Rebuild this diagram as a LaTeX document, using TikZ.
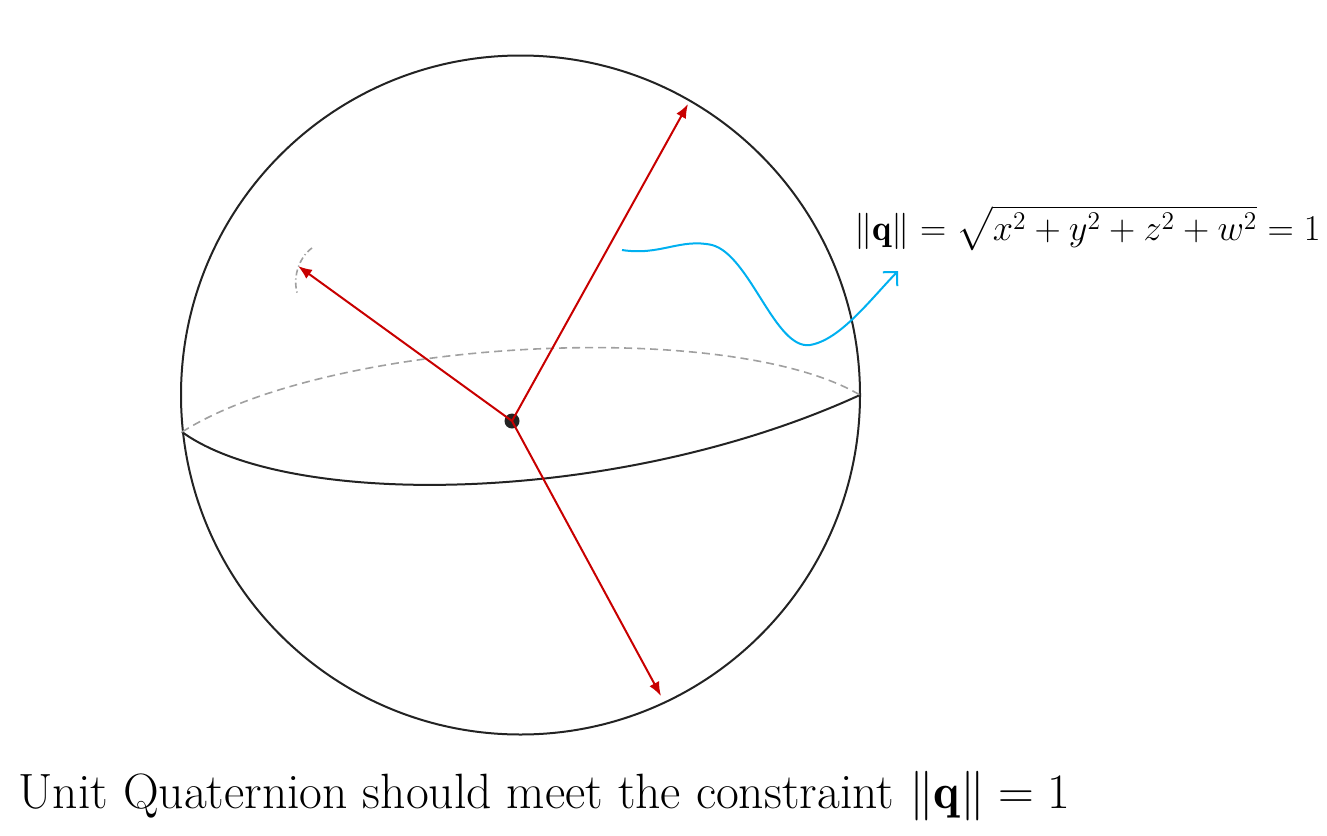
\RequirePackage{fix-cm}
\documentclass[tikz,border=0pt]{standalone}
\usepackage{amsmath}
\usepackage{amssymb}
\usepackage{fontspec}
\usepackage{tikz}
\usetikzlibrary{arrows.meta, positioning, calc}
\usepackage{xcolor}

\definecolor{qred}{RGB}{200,0,0}
\definecolor{qblue}{RGB}{0,176,240}
\definecolor{qgray}{RGB}{160,160,160}
\definecolor{qblack}{RGB}{35,35,35}

\begin{document}
\begin{tikzpicture}[x=0.5pt, y=-0.5pt]
        \useasboundingbox (0,0) rectangle (1327,835);

        % Khung cau don vi
        \draw[qblack, line width=1pt] (520.5,395) circle[radius=339.5];

        % Duong xich dao: phan truoc va phan sau
        \draw[qblack, line width=1pt] (182,432) .. controls (290,510) and (620,505) .. (860,395);
        \draw[qgray, line width=0.8pt, dash pattern=on 4pt off 2.5pt] (182,432) .. controls (330,338) and (730,318) .. (860,395);

        % Tam va cac vecto
        \node[circle, fill=qblack, inner sep=0pt, minimum size=7.5pt] (o) at (512,421) {};
        \coordinate (p1) at (688,104);
        \coordinate (p2) at (298,266);
        \coordinate (p3) at (661,696);
        \draw[qred, line width=1pt, -{Latex[length=7pt,width=5.5pt]}] (o.center) -- (p1);
        \draw[qred, line width=1pt, -{Latex[length=7pt,width=5.5pt]}] (o.center) -- (p2);
        \draw[qred, line width=1pt, -{Latex[length=7pt,width=5.5pt]}] (o.center) -- (p3);

        % Cung nho mau xam
        \draw[qgray, line width=0.8pt, dash pattern=on 3pt off 1.5pt on 0.6pt off 1.5pt] (312,248) .. controls (298,258) and (292,280) .. (298,295);

        % Cong thuc chuan
        \node[anchor=base west, inner sep=0pt] (norm) at (854,240)
            {\fontsize{18.2}{22}\selectfont $\|\mathbf{q}\| = \sqrt{x^2+y^2+z^2+w^2} = 1$};
        \coordinate (wstart) at (622,250);
        \coordinate (wend) at (898,271);
        \draw[qblue, line width=1pt, -{Straight Barb[length=5pt,width=10pt]}]
            (wstart) .. controls (660,256) and (680,238) .. (712,245)
                     .. controls (750,255) and (775,350) .. (810,345)
                     .. controls (840,340) and (870,300) .. (wend);

        % Chu thich
        \node[anchor=base west, inner sep=0pt] (caption) at (18,808)
            {\fontsize{24.8}{30}\selectfont Unit Quaternion should meet the constraint $\|\mathbf{q}\| = 1$};
    \end{tikzpicture}
\end{document}
